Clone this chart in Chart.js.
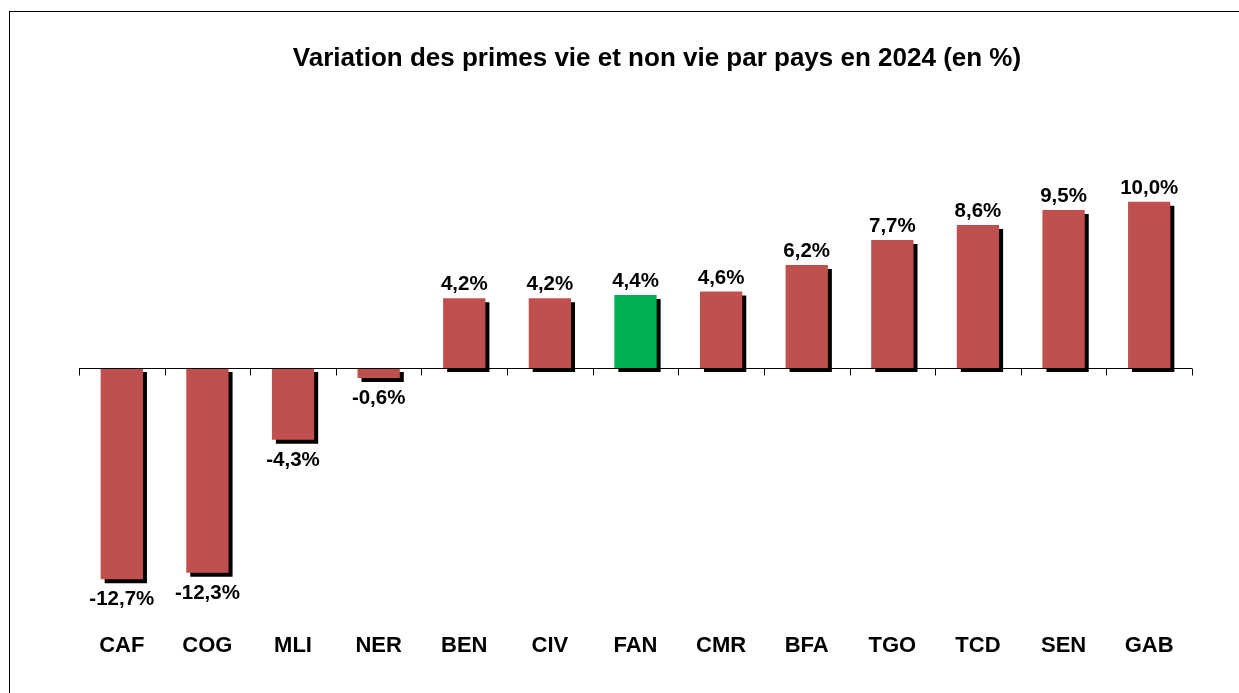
<!DOCTYPE html>
<html>
<head>
<meta charset="utf-8">
<script src="https://cdn.jsdelivr.net/npm/chart.js@4.4.1/dist/chart.umd.min.js"></script>
<style>
  html, body { margin: 0; padding: 0; width: 1239px; height: 693px; overflow: hidden; background: #fff; }
  #frame { position: absolute; left: 9px; top: 11px; width: 1400px; height: 800px; border: 1px solid #000; box-sizing: border-box; }
  #c { position: absolute; left: 0; top: 0; }
</style>
</head>
<body>
<div id="frame"></div>
<canvas id="c" width="1314" height="693"></canvas>
<script>
const categories = ['CAF', 'COG', 'MLI', 'NER', 'BEN', 'CIV', 'FAN', 'CMR', 'BFA', 'TGO', 'TCD', 'SEN', 'GAB'];
const values = [-12.7, -12.3, -4.3, -0.6, 4.2, 4.2, 4.4, 4.6, 6.2, 7.7, 8.6, 9.5, 10.0];
const labels = ['-12,7%', '-12,3%', '-4,3%', '-0,6%', '4,2%', '4,2%', '4,4%', '4,6%', '6,2%', '7,7%', '8,6%', '9,5%', '10,0%'];
const highlight = 'FAN';
const titleText = 'Variation des primes vie et non vie par pays en 2024 (en %)';

const FONT = "'Liberation Sans', Arial, sans-serif";
const RED = '#C0504D';
const GREEN = '#00B050';

const shadowPlugin = {
  id: 'barShadow',
  beforeDatasetDraw(chart) {
    const ctx = chart.ctx;
    ctx.save();
    ctx.shadowColor = '#000';
    ctx.shadowOffsetX = 4;
    ctx.shadowOffsetY = 4;
    ctx.shadowBlur = 0;
  },
  afterDatasetDraw(chart) {
    chart.ctx.restore();
  }
};

const titlePlugin = {
  id: 'customTitle',
  afterDraw(chart) {
    const ctx = chart.ctx;
    ctx.save();
    ctx.fillStyle = '#000';
    ctx.font = 'bold 26px ' + FONT;
    ctx.textAlign = 'center';
    ctx.textBaseline = 'alphabetic';
    ctx.fillText(titleText, 657, 66);
    ctx.restore();
  }
};

const axisPlugin = {
  id: 'zeroAxis',
  afterDatasetsDraw(chart) {
    const ctx = chart.ctx;
    const y0 = Math.round(chart.scales.y.getPixelForValue(0)) + 0.5;
    const left = chart.chartArea.left, right = chart.chartArea.right;
    ctx.save();
    ctx.strokeStyle = '#000';
    ctx.lineWidth = 1;
    ctx.beginPath();
    ctx.moveTo(left, y0);
    ctx.lineTo(right, y0);
    const n = categories.length;
    const w = (right - left) / n;
    for (let i = 0; i <= n; i++) {
      const x = Math.round(left + i * w) + 0.5;
      ctx.moveTo(x, y0);
      ctx.lineTo(x, y0 + 7);
    }
    ctx.stroke();
    // data labels
    const meta = chart.getDatasetMeta(0);
    ctx.fillStyle = '#000';
    ctx.font = 'bold 20.5px ' + FONT;
    ctx.textAlign = 'center';
    ctx.textBaseline = 'alphabetic';
    meta.data.forEach((bar, i) => {
      const v = values[i];
      if (v >= 0) {
        ctx.fillText(labels[i], bar.x, bar.y - 8);
      } else {
        ctx.fillText(labels[i], bar.x, bar.y + 26);
      }
    });
    ctx.restore();
  }
};

new Chart(document.getElementById('c'), {
  type: 'bar',
  data: {
    labels: categories,
    datasets: [{
      data: values,
      backgroundColor: categories.map(c => c === highlight ? GREEN : RED),
      borderWidth: 0,
      categoryPercentage: 1.0,
      barPercentage: 0.494
    }]
  },
  options: {
    responsive: false,
    animation: false,
    devicePixelRatio: 1,
    layout: { padding: { left: 79, right: 122, top: 102, bottom: 19 } },
    plugins: {
      legend: { display: false },
      tooltip: { enabled: false },
      title: { display: false }
    },
    scales: {
      x: {
        grid: { display: false, drawTicks: false },
        border: { display: false },
        ticks: { color: '#000', font: { family: FONT, size: 22, weight: 'bold' }, padding: 15, maxRotation: 0 }
      },
      y: {
        display: false,
        min: -15,
        max: 16
      }
    }
  },
  plugins: [shadowPlugin, axisPlugin, titlePlugin]
});
</script>
</body>
</html>
